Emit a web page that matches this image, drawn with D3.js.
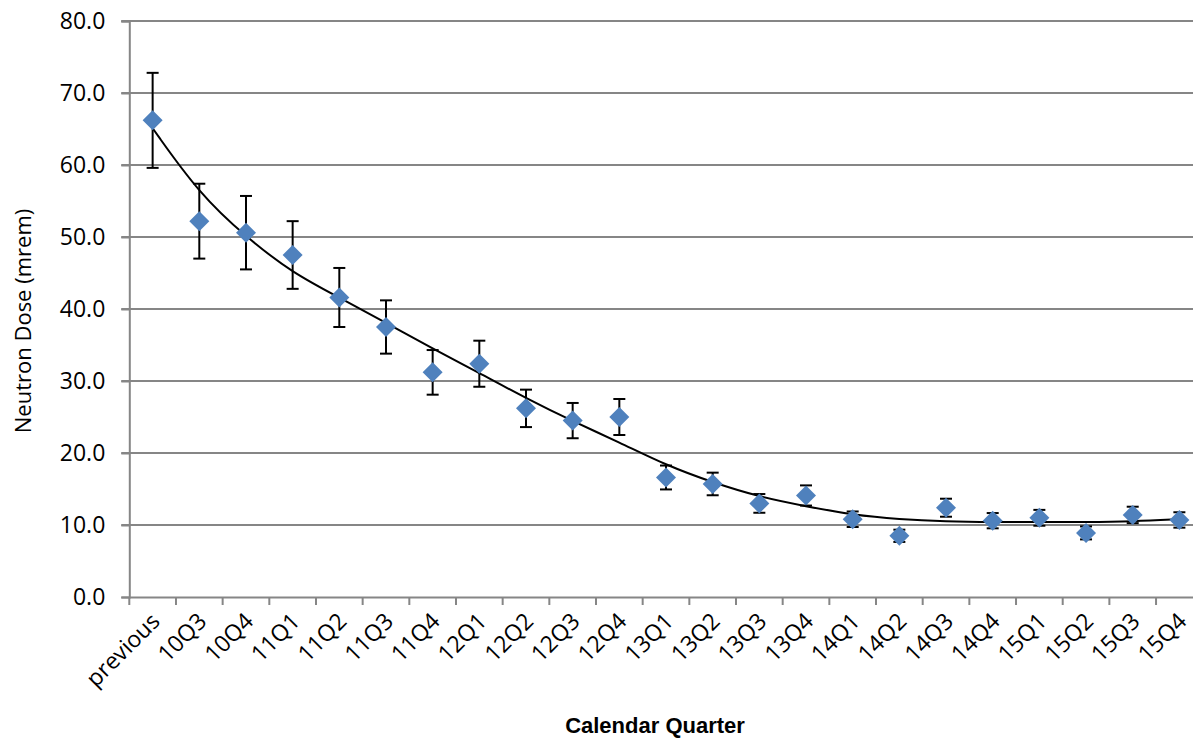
<!DOCTYPE html>
<html>
<head>
<meta charset="utf-8">
<script src="https://cdnjs.cloudflare.com/ajax/libs/d3/7.8.5/d3.min.js"></script>
<style>
  body { margin: 0; background: #fff; }
  text { font-family: "Open Sans", "Noto Sans", sans-serif; fill: #000; }
</style>
</head>
<body>
<svg id="chart" width="1193" height="738"></svg>
<script>
// data
const quarters = ["previous", "10Q3", "10Q4", "11Q1", "11Q2", "11Q3", "11Q4", "12Q1", "12Q2", "12Q3", "12Q4",
  "13Q1", "13Q2", "13Q3", "13Q4", "14Q1", "14Q2", "14Q3", "14Q4", "15Q1", "15Q2", "15Q3", "15Q4"];
const dose = [66.2, 52.2, 50.6, 47.5, 41.6, 37.5, 31.2, 32.4, 26.2, 24.5, 25.0,
  16.6, 15.7, 13.0, 14.1, 10.8, 8.5, 12.4, 10.6, 11.0, 8.9, 11.4, 10.7];
const doseErr = [6.6, 5.2, 5.1, 4.7, 4.1, 3.7, 3.1, 3.2, 2.6, 2.45, 2.5,
  1.66, 1.57, 1.3, 1.4, 1.08, 0.85, 1.25, 1.06, 1.1, 0.9, 1.14, 1.07];
// trendline as read at each quarter
const trendVals = [65.1, 56.0, 50.0, 45.0, 41.6, 38.1, 34.5, 31.1, 27.6, 24.4, 21.5,
  18.3, 15.9, 13.9, 12.6, 11.4, 10.8, 10.5, 10.4, 10.4, 10.4, 10.5, 10.8];
const yTicks = [0, 10, 20, 30, 40, 50, 60, 70, 80];

const svg = d3.select("#chart");
const plotLeft = 129.3, plotTop = 21, plotBottom = 597;
const band = 46.67;
const plotRight = plotLeft + band * quarters.length; // chart runs past the right edge, as in the original

const x = d3.scaleBand().domain(quarters).range([plotLeft, plotRight]);
const y = d3.scaleLinear().domain([0, 80]).range([plotBottom, plotTop]);
const cx = d => x(d) + x.bandwidth() / 2;

// gridlines
svg.append("g")
  .selectAll("line")
  .data(yTicks.filter(t => t > 0))
  .enter()
  .append("line")
  .attr("x1", plotLeft - 8).attr("x2", plotRight)
  .attr("y1", d => y(d)).attr("y2", d => y(d))
  .attr("stroke", "#868686").attr("stroke-width", 2);

// y axis
const yAxis = svg.append("g")
  .attr("transform", `translate(${plotLeft},0)`)
  .call(d3.axisLeft(y).tickValues(yTicks).tickFormat(d3.format(".1f")).tickSize(8).tickPadding(16));
yAxis.select(".domain").attr("stroke", "#868686").attr("stroke-width", 2);
yAxis.selectAll(".tick line").attr("stroke", "#868686").attr("stroke-width", 2);
yAxis.selectAll(".tick text").style("font-size", "23px").attr("font-family", null);

// x axis
const xAxis = svg.append("g")
  .attr("transform", `translate(0,${plotBottom})`)
  .call(d3.axisBottom(x).tickSize(0).tickFormat(""));
xAxis.select(".domain").attr("stroke", "#868686").attr("stroke-width", 2);
svg.append("g")
  .selectAll("line")
  .data(d3.range(quarters.length + 1))
  .enter()
  .append("line")
  .attr("x1", i => plotLeft + i * band).attr("x2", i => plotLeft + i * band)
  .attr("y1", plotBottom).attr("y2", plotBottom + 8)
  .attr("stroke", "#868686").attr("stroke-width", 2);

svg.append("g")
  .selectAll("text")
  .data(quarters)
  .enter()
  .append("text")
  .attr("transform", d => `translate(${cx(d) + 3},${plotBottom + 20}) rotate(-45)`)
  .attr("text-anchor", "end")
  .attr("dy", "0.35em")
  .style("font-size", "23px")
  .text(d => d);

// axis titles
svg.append("text")
  .attr("x", 655).attr("y", 733)
  .attr("text-anchor", "middle")
  .style("font-family", "'Liberation Sans Narrow', 'Liberation Sans', sans-serif")
  .style("font-weight", "bold")
  .style("font-size", "22px")
  .text("Calendar Quarter");

svg.append("text")
  .attr("transform", "translate(31,321) rotate(-90)")
  .attr("text-anchor", "middle")
  .style("font-size", "22px")
  .text("Neutron Dose (mrem)");

// trendline
svg.append("path")
  .datum(quarters)
  .attr("fill", "none")
  .attr("stroke", "#000")
  .attr("stroke-width", 2)
  .attr("d", d3.line().curve(d3.curveBasis).x(d => cx(d)).y((d, i) => y(trendVals[i])));

// error bars
const eb = svg.append("g").attr("stroke", "#000").attr("stroke-width", 2);
quarters.forEach((q, i) => {
  const hi = y(dose[i] + doseErr[i]), lo = y(dose[i] - doseErr[i]);
  eb.append("line").attr("x1", cx(q)).attr("x2", cx(q)).attr("y1", hi).attr("y2", lo);
  eb.append("line").attr("x1", cx(q) - 6).attr("x2", cx(q) + 6).attr("y1", hi).attr("y2", hi);
  eb.append("line").attr("x1", cx(q) - 6).attr("x2", cx(q) + 6).attr("y1", lo).attr("y2", lo);
});

// markers
svg.append("g")
  .selectAll("path")
  .data(quarters)
  .enter()
  .append("path")
  .attr("d", d3.symbol().type(d3.symbolSquare).size(200))
  .attr("transform", (d, i) => `translate(${cx(d)},${y(dose[i])}) rotate(45)`)
  .attr("fill", "#4F81BD");
</script>
</body>
</html>
